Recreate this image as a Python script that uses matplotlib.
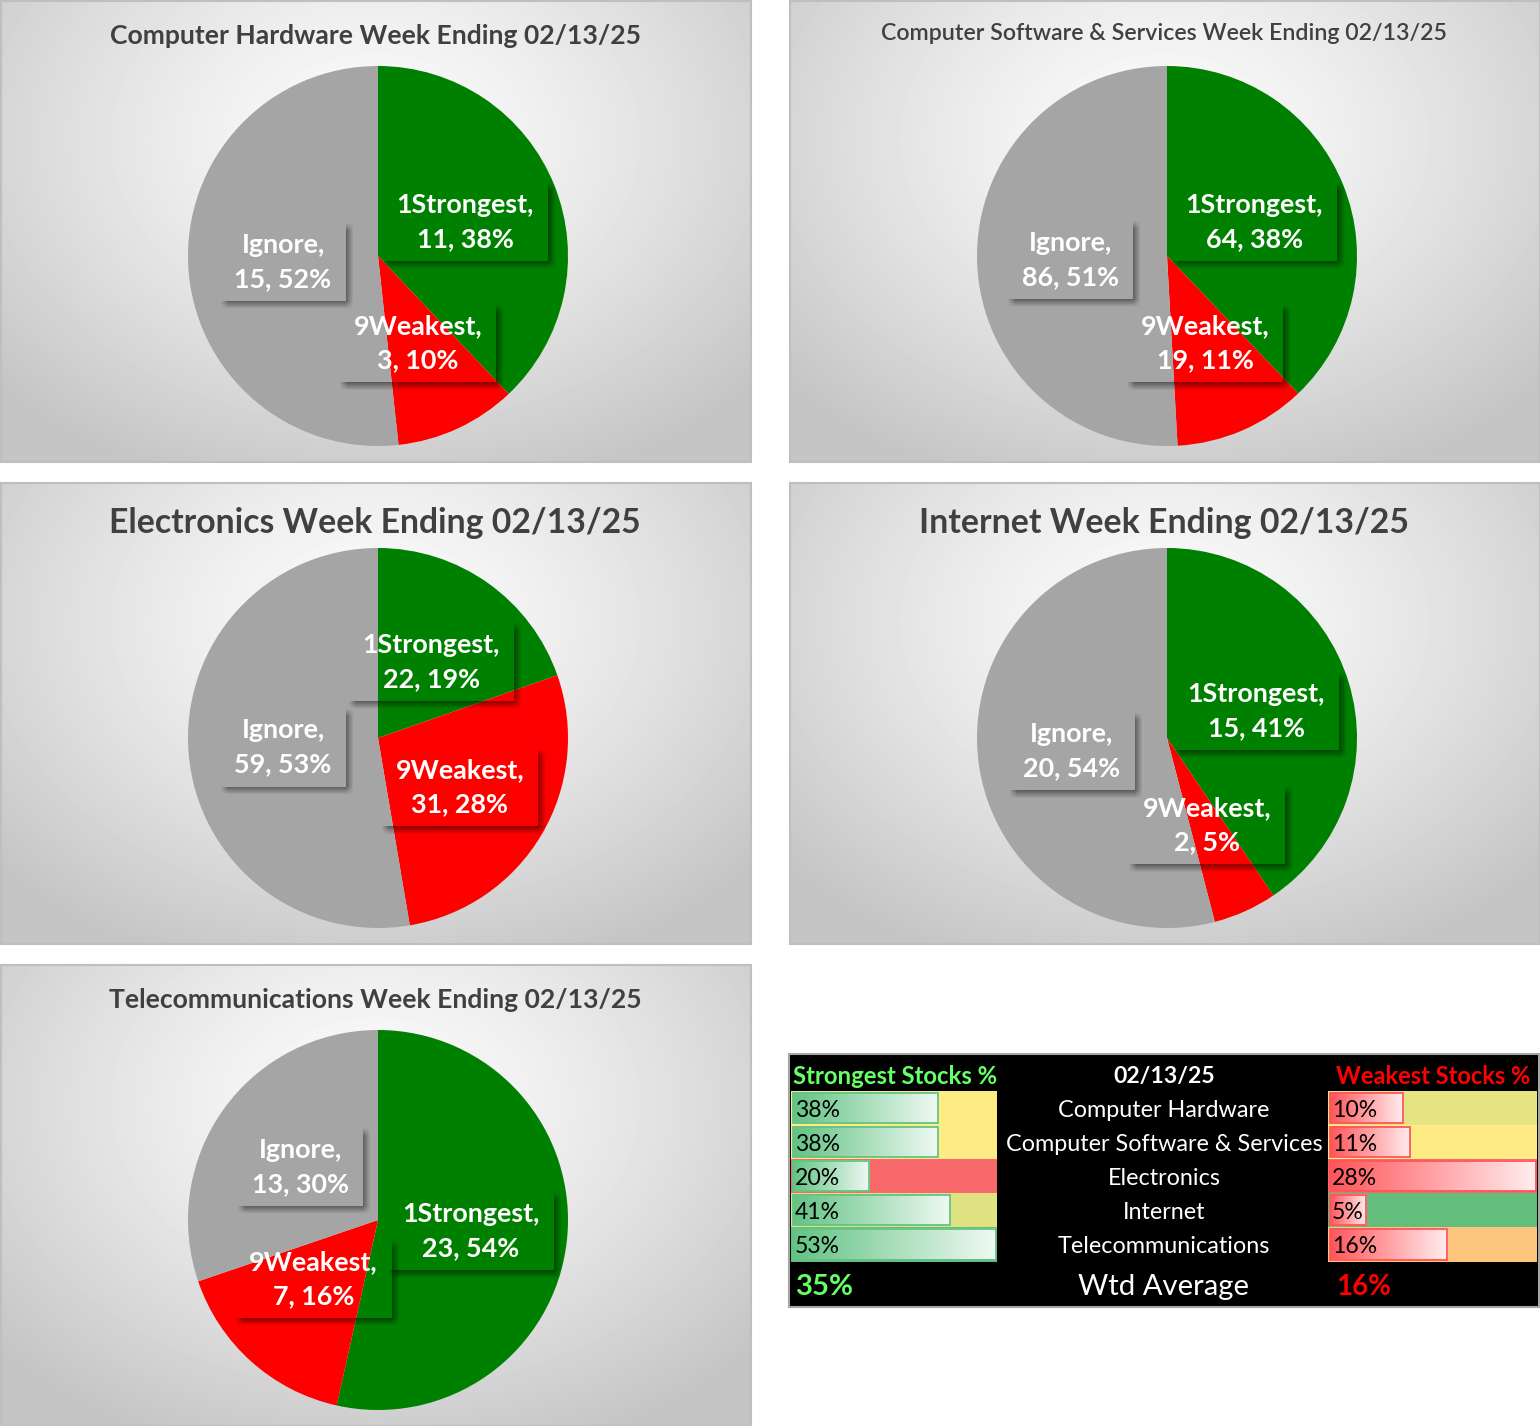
import numpy as np
import matplotlib.pyplot as plt
from matplotlib.patches import Rectangle

plt.rcParams['font.family'] = ['Lato', 'DejaVu Sans']

W, H = 1540, 1426
DATE = '02/13/25'

# chart data
sectors = ['Computer Hardware', 'Computer Software & Services', 'Electronics',
           'Internet', 'Telecommunications']
slice_names = ['1Strongest', '9Weakest', 'Ignore']
counts = [[11, 3, 15], [64, 19, 86], [22, 31, 59], [15, 2, 20], [23, 7, 13]]
pct_labels = [[38, 10, 52], [38, 11, 51], [19, 28, 53], [41, 5, 54], [54, 16, 30]]
strong_pct = [38, 38, 20, 41, 53]
weak_pct = [10, 11, 28, 5, 16]
avg_strong = 35
avg_weak = 16

slice_colors = ['#008000', '#FF0000', '#A5A5A5']

# layout of the five chart panels (pixels, top-left corners)
panels = [(0, 0), (789, 0), (0, 482), (789, 482), (0, 964)]
PW, PH = 751, 462
R = 190
title_w = [531, 563, 532, 490, 531]
title_y = [36, 33, 41, 41, 36]
title_wt = ['bold', 'semibold', 'bold', 'bold', 'bold']
# label centres relative to pie centre (pie radius = 1)
label_pos = [
    [(0.46, 0.18), (0.21, -0.46), (-0.50, -0.03)],
    [(0.46, 0.18), (0.20, -0.46), (-0.51, -0.02)],
    [(0.28, 0.40), (0.43, -0.26), (-0.50, -0.05)],
    [(0.47, 0.14), (0.21, -0.46), (-0.50, -0.07)],
    [(0.49, -0.06), (-0.34, -0.31), (-0.41, 0.28)],
]

fig = plt.figure(figsize=(W / 100, H / 100), dpi=100)
r = fig.canvas.get_renderer()


def fit(t, px):
    for _ in range(2):
        t.set_fontsize(t.get_fontsize() * px / t.get_window_extent(r).width)
    return t.get_fontsize()


bg = fig.add_axes([0, 0, 1, 1])
bg.axis('off')

# radial grey gradient behind every chart
yy, xx = np.mgrid[0:1:150j, 0:1:240j]
d = np.hypot((xx - 0.5) / 0.5, (yy - 0.3) / 0.6)
shade = np.clip(0.99 - 0.15 * d ** 1.3, 0.77, 1)

for k, (px, py) in enumerate(panels):
    bg.imshow(shade, cmap='gray', vmin=0, vmax=1, extent=(px, px + PW, py + PH, py),
              interpolation='bilinear', aspect='auto', zorder=0)
    bg.add_patch(Rectangle((px + 0.5, py + 0.5), PW - 1, PH - 1, fill=False, ec='#BFBFBF', lw=1.5))
    t = bg.text(px + 375, py + title_y[k], f'{sectors[k]} Week Ending {DATE}',
                ha='center', va='center', color='#404040', fontsize=18, fontweight=title_wt[k])
    fit(t, title_w[k])

# pies
dummy = fig.text(0, 0, '1Strongest,', fontsize=18, fontweight='bold')
lab_fs = fit(dummy, 138)
dummy.remove()

labels = []
for k, (px, py) in enumerate(panels):
    cx, cy = px + 378, py + 256
    ax = fig.add_axes([(cx - R) / W, 1 - (cy + R) / H, 2 * R / W, 2 * R / H])
    ax.pie(counts[k], colors=slice_colors, startangle=90, counterclock=False,
           wedgeprops=dict(linewidth=0))
    ax.set_xlim(-1, 1)
    ax.set_ylim(-1, 1)
    ax.axis('off')
    for j in range(3):
        lx, ly = label_pos[k][j]
        t = ax.text(lx, ly, f'{slice_names[j]},\n{counts[k][j]}, {pct_labels[k][j]}%',
                    ha='center', va='center', color='white', fontsize=lab_fs,
                    fontweight='bold', linespacing=1.5, zorder=5)
        labels.append(t)

# summary table
RED = np.array([248, 105, 107])
YEL = np.array([255, 235, 132])
GRN = np.array([99, 190, 123])


def scale_color(v, vals, lo_col, hi_col):
    lo, mid, hi = min(vals), np.median(vals), max(vals)
    if v <= mid:
        c = lo_col + (v - lo) / (mid - lo) * (YEL - lo_col)
    else:
        c = YEL + (v - mid) / (hi - mid) * (hi_col - YEL)
    return c / 255


tx0, tx1, ty0, ty1 = 789, 1539, 1054, 1307
bg.add_patch(Rectangle((tx0, ty0), tx1 - tx0, ty1 - ty0, fc='black', ec='#A6A6A6', lw=1.5, zorder=1))
row_top, row_h = 1090.5, 34.2
s_col = (791, 997)
w_col = (1328, 1537)
mid_x = 1164

grad = np.linspace(0, 0.9, 256)[None, :, None]


def bar_cell(col, val, vals, bg_col, bar_col, i):
    y = row_top + i * row_h
    bg.add_patch(Rectangle((col[0], y), col[1] - col[0], row_h, fc=bg_col, ec='none', zorder=2))
    bw = val / max(vals) * (col[1] - col[0] - 3)
    c = np.array(bar_col)[None, None, :]
    img = c * (1 - grad) + grad
    bg.imshow(img, extent=(col[0] + 1.5, col[0] + 1.5 + bw, y + row_h - 2, y + 2),
              interpolation='bilinear', aspect='auto', zorder=3)
    bg.add_patch(Rectangle((col[0] + 1.5, y + 2), bw, row_h - 4, fill=False, ec=bar_col,
                           lw=1.3, zorder=4))
    return bg.text(col[0] + 4, y + row_h / 2 + 2.5, f'{val}%', ha='left', va='center',
                   color='black', fontsize=15, zorder=5)


pct_texts = []
for i in range(5):
    pct_texts.append(bar_cell(s_col, strong_pct[i], strong_pct,
                              scale_color(strong_pct[i], strong_pct, RED, GRN),
                              np.array([99, 195, 132]) / 255, i))
    pct_texts.append(bar_cell(w_col, weak_pct[i], weak_pct,
                              scale_color(weak_pct[i], weak_pct, GRN, RED),
                              np.array([255, 85, 90]) / 255, i))
fs = fit(pct_texts[0], 45)
for t in pct_texts:
    t.set_fontsize(fs)

row_texts = [bg.text(mid_x, row_top + (i + 0.5) * row_h + 2.5, s, ha='center', va='center',
                     color='white', fontsize=15, zorder=5) for i, s in enumerate(sectors)]
fs = fit(row_texts[1], 317)
for t in row_texts:
    t.set_fontsize(fs)

fit(bg.text(s_col[0] + 2, 1077, 'Strongest Stocks %', ha='left', va='center',
            color='#66FF66', fontsize=15, fontweight='bold', zorder=5), 204)
fit(bg.text(mid_x, 1077, DATE, ha='center', va='center', color='white',
            fontsize=15, fontweight='bold', zorder=5), 101)
fit(bg.text(w_col[1] - 7, 1077, 'Weakest Stocks %', ha='right', va='center',
            color='#FF0000', fontsize=15, fontweight='bold', zorder=5), 194)
fit(bg.text(s_col[0] + 4, 1287, f'{avg_strong}%', ha='left', va='center',
            color='#66FF66', fontsize=18, fontweight='bold', zorder=5), 58)
fit(bg.text(mid_x, 1287, 'Wtd Average', ha='center', va='center', color='white',
            fontsize=18, zorder=5), 171)
fit(bg.text(w_col[0] + 8, 1287, f'{avg_weak}%', ha='left', va='center',
            color='#FF0000', fontsize=18, fontweight='bold', zorder=5), 55)

bg.set_xlim(0, W)
bg.set_ylim(H, 0)


# drop shadows of the pie data labels (label boxes have no fill)
def add_shadow(x0, y0, x1, y1, off=4, blur=8, dark=0.45):
    m = off + blur
    xs = np.arange(int(x0), int(x1) + m + 1)
    ys = np.arange(int(y0) - m, int(y1) + 1)
    X, Y = np.meshgrid(xs + 0.5, ys + 0.5)
    sx0, sx1, sy0, sy1 = x0 + off, x1 + off, y0 - off, y1 - off
    fx = np.clip((X - sx0 + blur / 2) / blur, 0, 1) * np.clip((sx1 - X + blur / 2) / blur, 0, 1)
    fy = np.clip((Y - sy0 + blur / 2) / blur, 0, 1) * np.clip((sy1 - Y + blur / 2) / blur, 0, 1)
    a = dark * fx * fy
    a[(X >= x0) & (X <= x1) & (Y >= y0) & (Y <= y1)] = 0
    img = np.zeros(a.shape + (4,))
    img[..., 3] = a
    fig.figimage(img, xo=xs[0], yo=ys[0], origin='lower', zorder=3)


fig.canvas.draw()
r = fig.canvas.get_renderer()
for t in labels:
    bb = t.get_window_extent(r)
    add_shadow(bb.x0 - 14, bb.y0 - 10, bb.x1 + 14, bb.y1 + 10)

fig.savefig('out.png', dpi=100)
